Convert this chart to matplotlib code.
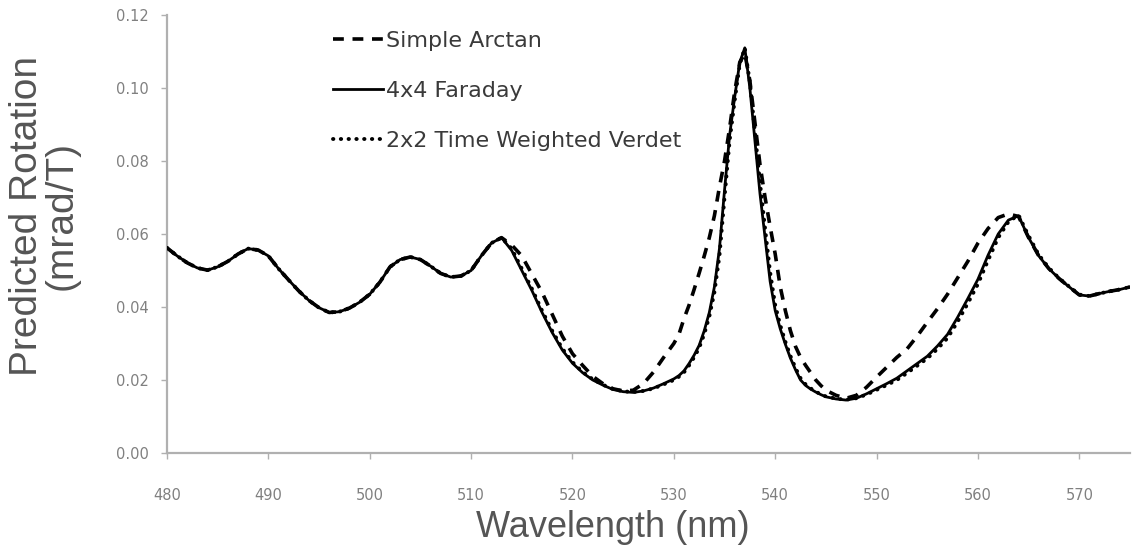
import matplotlib
matplotlib.use("Agg")
import matplotlib.pyplot as plt
from matplotlib.lines import Line2D

# ---------------- data ----------------
wavelength = [480, 481, 482, 483, 484, 485, 486, 487, 488, 489,
              490, 491, 492, 493, 494, 495, 496, 497, 498, 499,
              500, 501, 502, 503, 504, 505, 506, 507, 508, 509,
              510, 511, 512, 513, 514, 515, 516, 517, 518, 519,
              520, 521, 522, 523, 524, 525, 526, 527, 528, 529,
              530, 530.5, 531, 531.5, 532, 532.5, 533, 533.5, 534, 534.5,
              535, 535.5, 536, 536.5, 537, 537.5, 538, 538.5, 539, 539.5,
              540, 540.5, 541, 541.5, 542, 542.5, 543, 543.5, 544, 544.5,
              545, 546, 547, 548, 549, 550, 551, 552, 553, 554,
              555, 556, 557, 558, 559, 560, 561, 562, 563, 564,
              565, 566, 567, 568, 569, 570, 571, 572, 573, 574, 575]

faraday_4x4 = [0.0562, 0.0540, 0.0521, 0.0507, 0.0501, 0.0510, 0.0525, 0.0545, 0.0560, 0.0556,
               0.0540, 0.0505, 0.0474, 0.0444, 0.0418, 0.0398, 0.0385, 0.0387, 0.0397, 0.0413,
               0.0435, 0.0468, 0.0510, 0.0530, 0.0537, 0.0530, 0.0512, 0.0492, 0.0482, 0.0485,
               0.0500, 0.0540, 0.0575, 0.0590, 0.0555, 0.0500, 0.0445, 0.0385, 0.0330, 0.0282,
               0.0246, 0.0220, 0.0200, 0.0186, 0.0174, 0.0168, 0.0166, 0.0170, 0.0178, 0.0190,
               0.0203, 0.0212, 0.0225, 0.0245, 0.0268, 0.0295, 0.0335, 0.0385, 0.0455, 0.0560,
               0.0720, 0.0870, 0.0975, 0.1070, 0.1110, 0.1000, 0.0855, 0.0710, 0.0590, 0.0470,
               0.0390, 0.0340, 0.0298, 0.0260, 0.0228, 0.0200, 0.0185, 0.0175, 0.0167, 0.0160,
               0.0154, 0.0148, 0.0145, 0.0150, 0.0162, 0.0176, 0.0190, 0.0205, 0.0225, 0.0245,
               0.0265, 0.0293, 0.0325, 0.0372, 0.0423, 0.0476, 0.0542, 0.0600, 0.0638, 0.0650,
               0.0590, 0.0540, 0.0505, 0.0478, 0.0455, 0.0433, 0.0430, 0.0437, 0.0443, 0.0448, 0.0455]

simple_arctan = [0.0562, 0.0540, 0.0521, 0.0507, 0.0501, 0.0510, 0.0525, 0.0545, 0.0560, 0.0556,
                 0.0540, 0.0505, 0.0474, 0.0444, 0.0418, 0.0398, 0.0385, 0.0387, 0.0397, 0.0413,
                 0.0435, 0.0468, 0.0510, 0.0530, 0.0537, 0.0530, 0.0512, 0.0492, 0.0482, 0.0485,
                 0.0500, 0.0540, 0.0575, 0.0590, 0.0570, 0.0540, 0.0490, 0.0440, 0.0380, 0.0320,
                 0.0272, 0.0240, 0.0210, 0.0190, 0.0176, 0.0170, 0.0172, 0.0190, 0.0222, 0.0262,
                 0.0300, 0.0325, 0.0368, 0.0405, 0.0448, 0.0493, 0.0540, 0.0590, 0.0650, 0.0729,
                 0.0800, 0.0890, 0.0990, 0.1070, 0.1095, 0.1020, 0.0905, 0.0790, 0.0700, 0.0620,
                 0.0545, 0.0455, 0.0390, 0.0335, 0.0292, 0.0262, 0.0240, 0.0220, 0.0200, 0.0185,
                 0.0172, 0.0158, 0.0150, 0.0158, 0.0180, 0.0208, 0.0235, 0.0262, 0.0285, 0.0320,
                 0.0358, 0.0395, 0.0435, 0.0480, 0.0525, 0.0575, 0.0615, 0.0645, 0.0655, 0.0648,
                 0.0590, 0.0540, 0.0505, 0.0478, 0.0455, 0.0433, 0.0430, 0.0437, 0.0443, 0.0448, 0.0455]

time_weighted_verdet = [0.0562, 0.0540, 0.0521, 0.0507, 0.0501, 0.0510, 0.0525, 0.0545, 0.0560, 0.0556,
                        0.0540, 0.0505, 0.0474, 0.0444, 0.0418, 0.0398, 0.0385, 0.0387, 0.0397, 0.0413,
                        0.0435, 0.0468, 0.0510, 0.0530, 0.0537, 0.0530, 0.0512, 0.0492, 0.0482, 0.0485,
                        0.0500, 0.0540, 0.0575, 0.0590, 0.0560, 0.0505, 0.0450, 0.0390, 0.0335, 0.0286,
                        0.0249, 0.0222, 0.0202, 0.0187, 0.0175, 0.0169, 0.0167, 0.0170, 0.0177, 0.0188,
                        0.0200, 0.0209, 0.0221, 0.0240, 0.0262, 0.0288, 0.0326, 0.0374, 0.0440, 0.0540,
                        0.0700, 0.0855, 0.0965, 0.1065, 0.1110, 0.1015, 0.0880, 0.0740, 0.0615, 0.0495,
                        0.0405, 0.0350, 0.0305, 0.0266, 0.0233, 0.0205, 0.0188, 0.0177, 0.0168, 0.0161,
                        0.0155, 0.0149, 0.0146, 0.0150, 0.0160, 0.0173, 0.0186, 0.0200, 0.0219, 0.0239,
                        0.0259, 0.0285, 0.0315, 0.0360, 0.0410, 0.0463, 0.0528, 0.0590, 0.0633, 0.0652,
                        0.0595, 0.0543, 0.0507, 0.0479, 0.0456, 0.0434, 0.0430, 0.0437, 0.0443, 0.0448, 0.0455]

series_labels = ["Simple Arctan", "4x4 Faraday", "2x2 Time Weighted Verdet"]
x_ticks = [480, 490, 500, 510, 520, 530, 540, 550, 560, 570]
y_ticks = [0.00, 0.02, 0.04, 0.06, 0.08, 0.10, 0.12]

# ---------------- figure ----------------
W, H = 1139, 559
fig = plt.figure(figsize=(W / 100, H / 100), dpi=100)
ax = fig.add_axes([167 / W, 1 - 453 / H, 963 / W, 438 / H])

dash_style = (0, (3.0, 2.4))
dot_style = (0, (0.1, 1.9))

ax.plot(wavelength, simple_arctan, color="black", lw=2.6, linestyle=dash_style,
        dash_capstyle="butt", label=series_labels[0], zorder=3)
ax.plot(wavelength, faraday_4x4, color="black", lw=2.0, linestyle="-",
        label=series_labels[1], zorder=4)
ax.plot(wavelength, time_weighted_verdet, color="black", lw=2.8, linestyle=dot_style,
        dash_capstyle="round", label=series_labels[2], zorder=5)

ax.set_xlim(480, 575)
ax.set_ylim(0, 0.12)
ax.set_xticks(x_ticks)
ax.set_yticks(y_ticks)
ax.set_xticklabels([str(v) for v in x_ticks])
ax.set_yticklabels([f"{v:.2f}" for v in y_ticks])

tick_color = "#808080"
for s in ["top", "right"]:
    ax.spines[s].set_visible(False)
for s in ["left", "bottom"]:
    ax.spines[s].set_color("#b0b0b0")
    ax.spines[s].set_linewidth(1.6)

ax.tick_params(axis="both", direction="out", length=4, width=1, color="#b0b0b0",
               labelcolor=tick_color, labelsize=10.5)
ax.tick_params(axis="x", pad=21)
ax.tick_params(axis="y", pad=9)

ax.set_xlabel("Wavelength (nm)", fontsize=26, color="#555555",
              family=["Liberation Sans", "DejaVu Sans"])
ax.xaxis.set_label_coords((613 - 167) / 963, -0.13)

fig.text(44 / W, 1 - 216 / H, "Predicted Rotation\n(mrad/T)", rotation=90,
         ha="center", va="center", multialignment="center", fontsize=28,
         color="#555555", linespacing=0.95,
         family=["Liberation Sans", "DejaVu Sans"])

handles = [
    Line2D([], [], color="black", lw=2.6, linestyle=dash_style, dash_capstyle="butt"),
    Line2D([], [], color="black", lw=2.0, linestyle="-"),
    Line2D([], [], color="black", lw=2.8, linestyle=dot_style, dash_capstyle="round"),
]
leg = ax.legend(handles, series_labels, loc="upper left",
                bbox_to_anchor=((333 - 167) / 963, 1.0 - 16 / 438), frameon=False,
                fontsize=16, handlelength=2.25, handletextpad=0.15,
                labelspacing=1.35, borderaxespad=0, borderpad=0)
for t in leg.get_texts():
    t.set_color("#3a3a3a")

fig.savefig("out.png", dpi=100)
